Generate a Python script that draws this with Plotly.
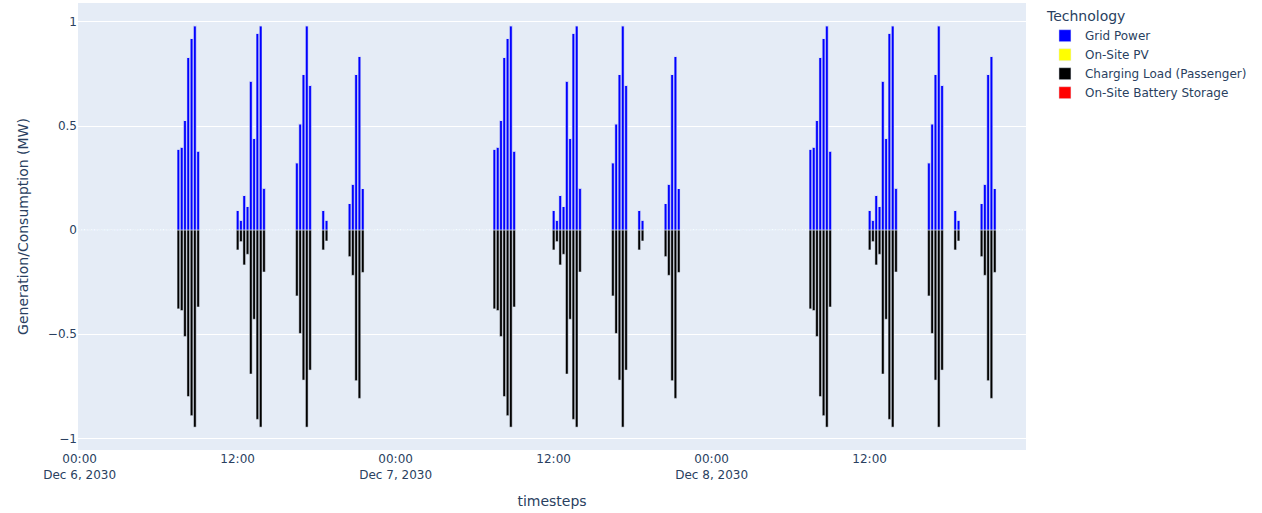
import pandas as pd
import plotly.graph_objects as go

# 15-minute timesteps over three days
timesteps = pd.date_range("2030-12-06 00:00", "2030-12-08 23:45", freq="15min")
days = ["2030-12-06", "2030-12-07", "2030-12-08"]

# Charging sessions per day: start time of each block of 15-min steps
session_starts = ["07:30", "12:00", "16:30", "18:30", "20:30"]

# Grid import (MW) for each step of each session
grid_power_blocks = [
    [0.389, 0.399, 0.527, 0.830, 0.921, 0.982, 0.380],
    [0.095, 0.048, 0.167, 0.114, 0.716, 0.441, 0.946, 0.982, 0.202],
    [0.324, 0.511, 0.748, 0.982, 0.696],
    [0.095, 0.048],
    [0.128, 0.221, 0.748, 0.835, 0.200],
]

# Passenger charging load (MW, consumption negative)
charging_load_blocks = [
    [-0.378, -0.386, -0.511, -0.799, -0.891, -0.946, -0.369],
    [-0.095, -0.055, -0.167, -0.116, -0.691, -0.428, -0.909, -0.946, -0.201],
    [-0.316, -0.496, -0.720, -0.946, -0.672],
    [-0.095, -0.052],
    [-0.127, -0.217, -0.723, -0.808, -0.203],
]

technologies = ["Grid Power", "On-Site PV", "Charging Load (Passenger)", "On-Site Battery Storage"]
tech_colors = ["#0000FF", "#FFFF00", "#000000", "#FF0000"]


def to_series(blocks):
    s = pd.Series(0.0, index=timesteps)
    for day in days:
        for start, vals in zip(session_starts, blocks):
            idx = pd.date_range(f"{day} {start}", periods=len(vals), freq="15min")
            s.loc[idx] = vals
    return s


series = {
    "Grid Power": to_series(grid_power_blocks),
    "On-Site PV": pd.Series(0.0, index=timesteps),
    "Charging Load (Passenger)": to_series(charging_load_blocks),
    "On-Site Battery Storage": pd.Series(0.0, index=timesteps),
}

fig = go.Figure()
for tech, color in zip(technologies, tech_colors):
    s = series[tech]
    fig.add_trace(go.Bar(x=s.index, y=s.values, name=tech, marker_color=color))

font_family = "Verdana, DejaVu Sans, sans-serif"
fig.update_layout(
    template="plotly",
    barmode="relative",
    width=1262,
    height=513,
    margin=dict(l=78, r=236, t=3, b=63),
    font=dict(family=font_family, size=12),
    legend=dict(title=dict(text="Technology", font=dict(size=14)), font=dict(size=12)),
    xaxis=dict(
        title=dict(text="timesteps", font=dict(size=14)),
        range=["2030-12-05 23:52:30", "2030-12-08 23:52:30"],
        dtick=12 * 3600 * 1000,
        tick0="2030-12-06 00:00",
        tickformat="%H:%M\n%b %-d, %Y",
        showgrid=False,
    ),
    yaxis=dict(
        title=dict(text="Generation/Consumption (MW)", font=dict(size=14)),
        range=[-1.056, 1.091],
        tickvals=[-1, -0.5, 0, 0.5, 1],
    ),
)

fig.write_html("out.html")
